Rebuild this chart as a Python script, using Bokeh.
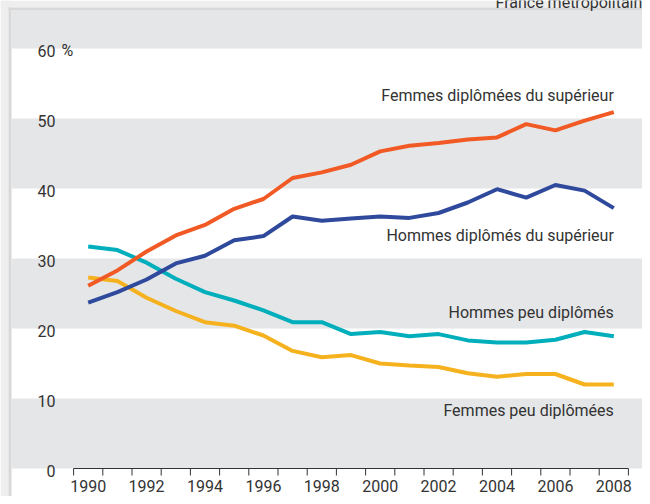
from bokeh.plotting import figure
from bokeh.models import Range1d, BoxAnnotation
from bokeh.core.properties import value
from bokeh.embed import file_html
from bokeh.resources import INLINE

years = list(range(1990, 2009))
femmes_sup = [26.1, 28.3, 31.0, 33.3, 34.8, 37.1, 38.5, 41.5, 42.3, 43.4, 45.3, 46.1, 46.5, 47.0, 47.3, 49.2, 48.3, 49.7, 50.9]
hommes_sup = [23.7, 25.2, 27.0, 29.3, 30.4, 32.6, 33.2, 36.0, 35.4, 35.7, 36.0, 35.8, 36.5, 38.0, 39.9, 38.7, 40.5, 39.7, 37.2]
hommes_peu = [31.7, 31.2, 29.4, 27.1, 25.2, 24.0, 22.6, 20.9, 20.9, 19.2, 19.5, 18.9, 19.2, 18.3, 18.0, 18.0, 18.4, 19.5, 18.9]
femmes_peu = [27.3, 26.8, 24.4, 22.5, 20.9, 20.4, 19.0, 16.8, 15.9, 16.2, 15.0, 14.7, 14.5, 13.6, 13.1, 13.5, 13.5, 12.0, 12.0]

series_names = ["Femmes diplômées du supérieur", "Hommes diplômés du supérieur",
                "Hommes peu diplômés", "Femmes peu diplômées"]
series_label_y = [52.5, 32.5, 21.5, 7.5]
y_ticks = [0, 10, 20, 30, 40, 50, 60]
y_tick_labels = ["0", "10", "20", "30", "40", "50", "60"]
x_tick_years = [1990, 1992, 1994, 1996, 1998, 2000, 2002, 2004, 2006, 2008]
x_tick_labels = [str(y) for y in x_tick_years]
corner_note = "France métropolitaine"

FONT = "Roboto"
FS = "16px"
TXT = "#333333"
GRAY = "#e5e6e8"
OUTER = "#eeeeee"
EDGE = "#d8d8d8"
colors = ["#f15a24", "#2f4a9c", "#00afbb", "#f5b21e"]

W, H = 642, 496
X1990 = 87.7      # pixel position of 1990
Y0 = 468.0        # pixel position of value 0
PX_PER_YEAR = 29.2
PX_PER_UNIT = 7.0
DY = -6           # text baseline correction
x0 = 1990 - X1990 / PX_PER_YEAR
x1 = x0 + W / PX_PER_YEAR
y1 = Y0 / PX_PER_UNIT
y0 = y1 - H / PX_PER_UNIT


def px_x(px):
    return x0 + px / PX_PER_YEAR


def px_y(py):
    return y1 - py / PX_PER_UNIT


p = figure(width=W, height=H, output_backend="svg", toolbar_location=None,
           x_range=Range1d(x0, x1), y_range=Range1d(y0, y1),
           min_border_left=0, min_border_right=0, min_border_top=0, min_border_bottom=0,
           background_fill_color="white", border_fill_color="white",
           x_axis_location=None, y_axis_location=None)
p.outline_line_color = None
p.grid.visible = False

# panel frame: light outer margin and darker edge (top and left)
p.add_layout(BoxAnnotation(bottom=px_y(7), fill_color=OUTER, fill_alpha=1, line_color=None, level="underlay"))
p.add_layout(BoxAnnotation(right=px_x(8), fill_color=OUTER, fill_alpha=1, line_color=None, level="underlay"))
p.add_layout(BoxAnnotation(left=px_x(8), right=px_x(11), top=px_y(7), fill_color=EDGE, fill_alpha=1,
                           line_color=None, level="underlay"))
p.add_layout(BoxAnnotation(left=px_x(8), bottom=px_y(9.5), top=px_y(7), fill_color=EDGE, fill_alpha=1,
                           line_color=None, level="underlay"))

# alternating background bands
for lo in [0, 20, 40, 60]:
    hi = lo + 10 if lo < 60 else px_y(9.5)
    p.add_layout(BoxAnnotation(left=px_x(11), bottom=lo, top=hi, fill_color=GRAY, fill_alpha=1,
                               line_color=None, level="underlay"))

# x axis drawn through the data scales: baseline, boundary ticks, year labels
boundaries = [y - 0.5 for y in years] + [years[-1] + 0.5]
p.segment(x0=[boundaries[0]], y0=[0], x1=[boundaries[-1]], y1=[0],
          line_color=TXT, line_width=1)
p.segment(x0=boundaries, y0=[0] * len(boundaries), x1=boundaries,
          y1=[-7 / PX_PER_UNIT] * len(boundaries), line_color=TXT, line_width=1)
p.text(x=x_tick_years, y=[0] * len(x_tick_years), text=x_tick_labels, y_offset=23 + DY,
       text_align="center", text_baseline="alphabetic", text_font=value(FONT),
       text_font_size=FS, text_color=TXT)

# lines
all_series = [femmes_sup, hommes_sup, hommes_peu, femmes_peu]
for vals, col in reversed(list(zip(all_series, colors))):
    p.line(years, vals, line_color=col, line_width=4)

# y tick labels (inside the panel, over the bands)
p.text(x=[x0] * len(y_ticks), y=y_ticks, text=y_tick_labels, x_offset=55, y_offset=8 + DY,
       text_align="right", text_baseline="alphabetic", text_font=value(FONT),
       text_font_size=FS, text_color=TXT)
p.text(x=[x0], y=[y_ticks[-1]], text=["%"], x_offset=61, y_offset=8 + DY,
       text_align="left", text_baseline="alphabetic", text_font=value(FONT),
       text_font_size=FS, text_color=TXT)

# series labels
p.text(x=[years[-1]] * 4, y=series_label_y, text=series_names, y_offset=DY,
       text_align="right", text_baseline="alphabetic", text_font=value(FONT),
       text_font_size=FS, text_color=TXT)

# corner note (cut by the top edge, as in the source)
p.text(x=[x0], y=[y1], text=[corner_note], x_offset=495, y_offset=2,
       text_align="left", text_baseline="alphabetic", text_font=value(FONT),
       text_font_size=FS, text_color=TXT)

open("out.html", "w").write(file_html(p, INLINE))
